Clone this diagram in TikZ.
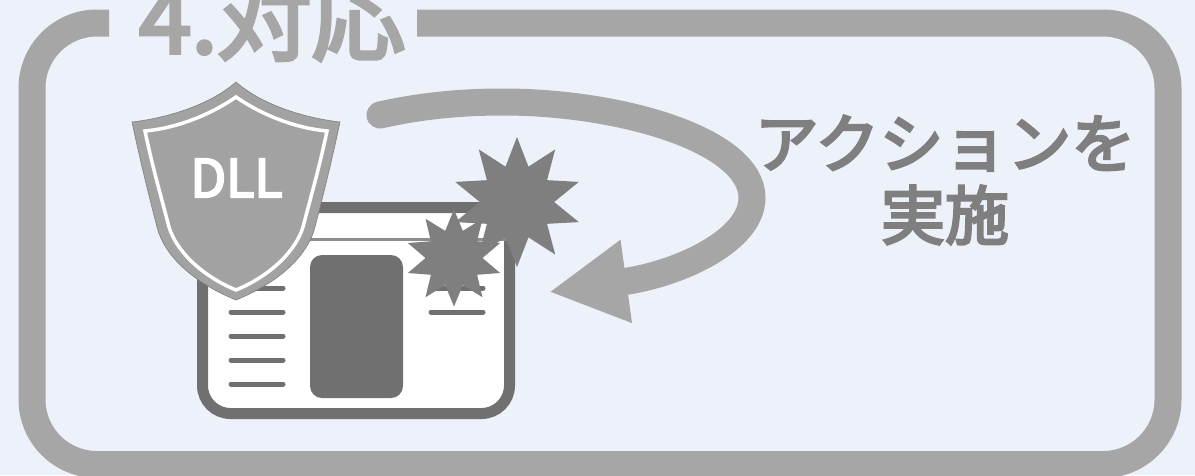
\documentclass[tikz,border=0pt]{standalone}
\usepackage{fontspec}
\setmainfont{Noto Sans CJK JP}[FakeBold=4]
\usepackage{xcolor}
\usepackage{tikz}
\usetikzlibrary{shapes.geometric,arrows.meta,positioning}
\definecolor{palebg}{HTML}{EDF1F9}
\definecolor{framegray}{HTML}{A6A6A6}
\definecolor{textgray}{HTML}{7F7F7F}
\definecolor{wingray}{HTML}{707070}
\definecolor{shieldgray}{HTML}{A2A2A2}

\begin{document}
\begin{tikzpicture}[
    x=1pt,y=-1pt,
    frameline/.style = {draw=framegray,line width=27pt,rounded corners=65pt},
    title/.style     = {anchor=base west,inner sep=0pt,text=framegray,font=\fontsize{94}{94}\selectfont},
    lab/.style       = {align=center,inner sep=0pt,text=textgray,font=\fontsize{64}{72}\selectfont},
    winbox/.style    = {rectangle,rounded corners=28pt,draw=wingray,fill=white,line width=11pt,
                        minimum width=307pt,minimum height=206pt,inner sep=0pt},
    pane/.style      = {rectangle,rounded corners=12pt,fill=wingray,minimum width=93pt,
                        minimum height=143pt,inner sep=0pt},
    bar/.style       = {draw=wingray,line width=5pt,line cap=round},
    burst/.style     = {star,star points=10,fill=textgray,inner sep=0pt},
    fl/.style        = {-{Triangle[length=78pt,width=78pt]},framegray,line width=27pt,line cap=round},
  ]

  \fill[palebg] (0,0) rectangle (1195,475);
  \useasboundingbox (0,0) rectangle (1195,475);
  \clip (0,0) rectangle (1195,475);

  \draw[frameline] (109,23) -- (32,23) -- (32,464.5) -- (1168,464.5) -- (1168,23) -- (417,23);
  \node[title] (head) at (139,53) {4.対応};

  % Fenster
  \node[winbox] (win) at (356,310.5) {};
  \draw[wingray!80,line width=3pt] (win.west |- 0,239) -- (win.east |- 0,239);
  \node[pane] (panel) at (356.5,326.5) {};
  \foreach \yy in {288,312,336,360,384} \draw[bar] (231,\yy) -- (283,\yy);
  \foreach \yy in {288,312} \draw[bar] (431,\yy) -- (483,\yy);

  \node[burst,minimum size=130pt,star point ratio=1.75] (bigburst) at (517,202) {};
  \node[burst,minimum size=97pt,star point ratio=1.7] (smallburst) at (454,258) {};

  % Schild
  \filldraw[fill=shieldgray,draw=textgray,line width=0.6pt]
    (236,82) .. controls (262,105) and (305,118) .. (340,122)
    .. controls (332,160) and (322,200) .. (315,227)
    .. controls (308,255) and (280,282) .. (236,300)
    .. controls (192,282) and (164,255) .. (157,227)
    .. controls (150,200) and (140,160) .. (132,122)
    .. controls (167,118) and (210,105) .. (236,82) -- cycle;
  \draw[white,line width=3.5pt,line join=miter]
    (236,97) .. controls (262,115) and (295,128) .. (327,131)
    .. controls (320,165) and (310,200) .. (303,227)
    .. controls (296,250) and (272,275) .. (236,290)
    .. controls (200,275) and (176,250) .. (169,227)
    .. controls (162,200) and (152,165) .. (145,131)
    .. controls (177,128) and (210,115) .. (236,97) -- cycle;
  \node[text=white,inner sep=0pt,font=\fontsize{52}{52}\selectfont] (dll) at (236.5,178) {DLL};

  \coordinate (fromtop) at (380,115);
  \coordinate (totip) at (549,292);
  \draw[fl] (fromtop) .. controls (420,106) and (460,102) .. (503,102)
    .. controls (620,102) and (752,140) .. (752,198)
    .. controls (752,240) and (680,274) .. (totip);

  \node[lab] (action) at (945,180) {アクションを\\実施};

\end{tikzpicture}
\end{document}
